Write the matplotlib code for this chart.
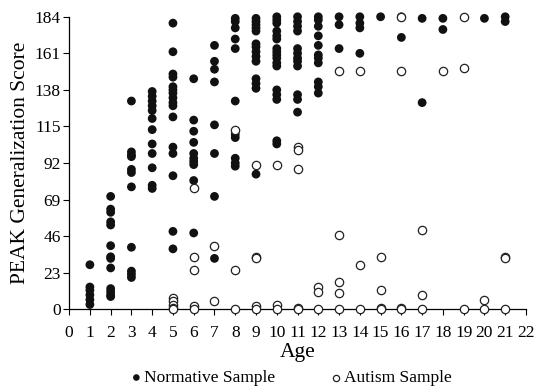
import matplotlib
matplotlib.use('Agg')
import matplotlib.pyplot as plt

# normative sample: age -> scores (filled dots)
norm_ages = [1, 2, 3, 4, 5, 6, 7, 8, 9, 10, 11, 12, 13, 14, 15, 16, 17, 18, 20, 21]
norm_scores = [
    [28, 14, 12, 9, 6, 3],
    [71, 63, 61, 55, 53, 40, 33, 32, 26, 13, 11, 9, 8],
    [131, 99, 97, 96, 88, 86, 77, 39, 24, 22, 20],
    [137, 134, 131, 128, 125, 120, 113, 104, 98, 89, 78, 76],
    [180, 162, 148, 146, 140, 138, 136, 133, 130, 128, 121, 102, 98, 84, 49, 38],
    [145, 119, 112, 105, 98, 95, 93, 91, 81, 48],
    [166, 156, 151, 143, 116, 98, 71, 32],
    [183, 181, 177, 170, 164, 131, 110, 108, 95, 92, 90],
    [183, 181, 179, 177, 175, 167, 165, 162, 159, 156, 145, 142, 139, 85],
    [184, 182, 180, 175, 172, 170, 164, 162, 160, 158, 155, 153, 138, 135, 132, 106, 104],
    [184, 181, 178, 175, 164, 161, 158, 156, 153, 135, 132, 124],
    [184, 182, 178, 172, 166, 160, 158, 155, 143, 140, 136],
    [184, 179, 164],
    [184, 180, 177, 161],
    [184],
    [184, 171],
    [183, 130],
    [183, 176],
    [183],
    [184, 181],
]

# autism sample: age -> scores (open circles)
aut_ages = [5, 6, 7, 8, 9, 10, 11, 12, 13, 14, 15, 16, 17, 18, 19, 20, 21]
aut_scores = [
    [7, 5, 3, 1, 0],
    [76, 33, 25, 2, 0],
    [40, 5],
    [113, 25, 0],
    [91, 33, 32, 2, 0],
    [91, 3, 0],
    [102, 100, 88, 1, 0],
    [14, 11, 0],
    [150, 47, 17, 10, 0],
    [150, 28, 0],
    [33, 12, 1, 0],
    [184, 150, 1, 0],
    [50, 9, 0],
    [150],
    [184, 152, 0],
    [6, 0],
    [33, 32, 0],
]

y_ticks = [0, 23, 46, 69, 92, 115, 138, 161, 184]
x_ticks = list(range(0, 23))


def flatten(ages, scores):
    xs, ys = [], []
    for a, s in zip(ages, scores):
        for v in s:
            xs.append(a)
            ys.append(v)
    return xs, ys


def main():
    plt.rcParams['font.family'] = ['Liberation Serif', 'DejaVu Serif']
    fig = plt.figure(figsize=(5.4, 3.9), dpi=100)
    ax = fig.add_axes([0.128, 0.207, 0.846, 0.75])

    nx, ny = flatten(norm_ages, norm_scores)
    axx, ayy = flatten(aut_ages, aut_scores)
    ax.scatter(nx, ny, s=40, c='#111111', edgecolors='none',
               label='Normative Sample', zorder=3, clip_on=False)
    ax.scatter(axx, ayy, s=36, facecolors='white', edgecolors='#222222',
               linewidths=0.9, label='Autism Sample', zorder=4, clip_on=False)

    ax.set_xlim(0, 22)
    ax.set_ylim(0, 184)
    ax.set_xticks(x_ticks)
    ax.set_yticks(y_ticks)
    ax.tick_params(direction='out', length=4, width=0.8, labelsize=12.5)
    ax.tick_params(axis='x', pad=7)
    ax.tick_params(axis='y', pad=2)
    for sp in ['top', 'right']:
        ax.spines[sp].set_visible(False)
    ax.spines['left'].set_linewidth(0.9)
    ax.spines['bottom'].set_linewidth(0.9)

    ax.set_xlabel('Age', fontsize=15.5, labelpad=2)
    ax.set_ylabel('PEAK Generalization Score', fontsize=15.5, labelpad=3)

    fig.legend(loc='lower center', bbox_to_anchor=(0.538, -0.03), ncol=2,
               frameon=False, fontsize=12.5, markerscale=0.75,
               handletextpad=0.05, handlelength=0.8, columnspacing=3.1)

    fig.savefig('out.png', dpi=100)


if __name__ == "__main__":
    main()
